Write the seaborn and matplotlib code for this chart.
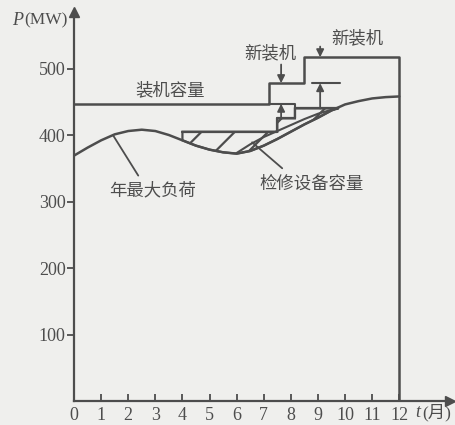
import matplotlib
matplotlib.use("Agg")
import matplotlib.pyplot as plt
import seaborn as sns
import pandas as pd

# annual peak load (MW) read every half month
load_months = [0, 0.5, 1, 1.5, 2, 2.5, 3, 3.5, 4, 4.5, 5, 5.5, 6, 6.5, 7, 7.5,
               8, 8.5, 9, 9.5, 10, 10.5, 11, 11.5, 12]
load_mw = [369, 381, 392, 401, 406, 408, 406, 400, 392, 384, 378, 374, 372, 376,
           384, 394, 405, 416, 426, 437, 446, 451, 455, 457, 458]

# second curve inside the hatched area
upper_months = [6.0, 6.5, 7.0, 7.5, 8.0, 8.5, 9.0, 9.5, 9.75]
upper_mw = [373, 386, 397, 406, 415, 424, 432, 438, 440]

# installed capacity (step), closed down to the axis at month 12
cap_months = [0, 7.2, 7.2, 8.5, 8.5, 12, 12]
cap_mw = [447, 447, 478, 478, 517, 517, 0]

# top of maintenance capacity block
maint_months = [4, 7.5, 7.5, 8.15, 8.15, 9.75]
maint_top = [405, 405, 425, 425, 440, 440]

x_ticks = list(range(13))
y_ticks = [100, 200, 300, 400, 500]

sns.set_theme(style="white")
plt.rcParams["font.family"] = ["Liberation Serif", "Noto Sans CJK SC", "DejaVu Sans"]
plt.rcParams["hatch.linewidth"] = 1.6

bg = "#efefed"
c = "#4d4d4d"
cjk = ["Noto Sans CJK SC", "DejaVu Sans"]

fig = plt.figure(figsize=(4.55, 4.25), dpi=100, facecolor=bg)
ax = fig.add_axes([74 / 455, 24 / 425, 376 / 455, 389 / 425])
ax.set_facecolor(bg)

load = pd.DataFrame({"month": load_months, "mw": load_mw})
upper = pd.DataFrame({"month": upper_months, "mw": upper_mw})
cap = pd.DataFrame({"month": cap_months, "mw": cap_mw})
maint = pd.DataFrame({"month": maint_months, "mw": maint_top})

# hatched maintenance area between block top and load curve
inside = load[(load.month >= maint_months[0]) & (load.month <= maint_months[-1])]
px = maint_months + inside.month.tolist()[::-1]
py = maint_top + inside.mw.tolist()[::-1]
ax.fill(px, py, facecolor="none", edgecolor=c, hatch="/", lw=1.6)

sns.lineplot(data=load, x="month", y="mw", ax=ax, color=c, lw=1.8,
             estimator=None, sort=False)
sns.lineplot(data=upper, x="month", y="mw", ax=ax, color=c, lw=1.5,
             estimator=None, sort=False)
sns.lineplot(data=cap, x="month", y="mw", ax=ax, color=c, lw=1.8,
             estimator=None, sort=False)
sns.lineplot(data=maint, x="month", y="mw", ax=ax, color=c, lw=1.6,
             estimator=None, sort=False)

# short reference lines for the new units
ax.plot([7.2, 8.15, 8.15], [447, 447, 440], color=c, lw=1.5)
ax.plot([8.78, 9.82], [478, 478], color=c, lw=1.5)

arr = dict(arrowstyle="-|>", color=c, lw=1.3, shrinkA=0, shrinkB=0,
           mutation_scale=11)
ax.annotate("", xy=(7.64, 478), xytext=(7.64, 506), arrowprops=arr)
ax.annotate("", xy=(9.08, 517), xytext=(9.08, 533), arrowprops=arr)
ax.annotate("", xy=(7.64, 447), xytext=(7.64, 425), arrowprops=arr)
ax.annotate("", xy=(9.08, 478), xytext=(9.08, 440), arrowprops=arr)

line = dict(arrowstyle="-", color=c, lw=1.3, shrinkA=0, shrinkB=0)
ax.annotate("", xy=(1.45, 399), xytext=(2.37, 339), arrowprops=line)
ax.annotate("", xy=(6.57, 389), xytext=(7.68, 350), arrowprops=line)

ax.text(3.55, 468, "装机容量", family=cjk, fontsize=12.5, color=c,
        ha="center", va="center")
ax.text(2.9, 317, "年最大负荷", family=cjk, fontsize=12.5, color=c,
        ha="center", va="center")
ax.text(8.75, 327, "检修设备容量", family=cjk, fontsize=12.5, color=c,
        ha="center", va="center")
ax.text(7.23, 523, "新装机", family=cjk, fontsize=12.5, color=c,
        ha="center", va="center")
ax.text(10.44, 546, "新装机", family=cjk, fontsize=12.5, color=c,
        ha="center", va="center")

# axis titles: italic symbol + unit
ax.text(-0.25, 572, "(MW)", fontsize=12.5, color=c, ha="right", va="center",
        family="Liberation Serif", clip_on=False)
ax.text(-1.86, 572, "P", fontsize=13, style="italic", color=c,
        ha="right", va="center", family="Liberation Serif", clip_on=False)
ax.text(12.6, -17, "t", fontsize=13, style="italic", color=c,
        ha="left", va="center", family="Liberation Serif", clip_on=False)
ax.text(12.85, -17, "(月)", fontsize=12.5, color=c, ha="left", va="center",
        family=["Liberation Serif", "Noto Sans CJK SC"], clip_on=False)

ax.set_xlim(0, 13.87)
ax.set_ylim(0, 585)
ax.set_xticks(x_ticks)
ax.set_yticks(y_ticks)
ax.set_xticklabels([str(v) for v in x_ticks])
ax.set_yticklabels([str(v) for v in y_ticks])
ax.set_xlabel("")
ax.set_ylabel("")
ax.tick_params(axis="x", direction="in", length=5, width=1.3, colors=c,
               labelsize=13, pad=4, bottom=True)
ax.tick_params(axis="y", direction="out", length=5, width=1.3, colors=c,
               labelsize=13, pad=1, left=True)

sns.despine(ax=ax)
for s in ["left", "bottom"]:
    ax.spines[s].set_color(c)
    ax.spines[s].set_linewidth(1.6)

# axis arrow heads
ax.plot(1, 0, ">", color=c, ms=7, transform=ax.transAxes, clip_on=False)
ax.plot(0, 1, "^", color=c, ms=7, transform=ax.transAxes, clip_on=False)

fig.savefig("out.png", dpi=100, facecolor=bg)
